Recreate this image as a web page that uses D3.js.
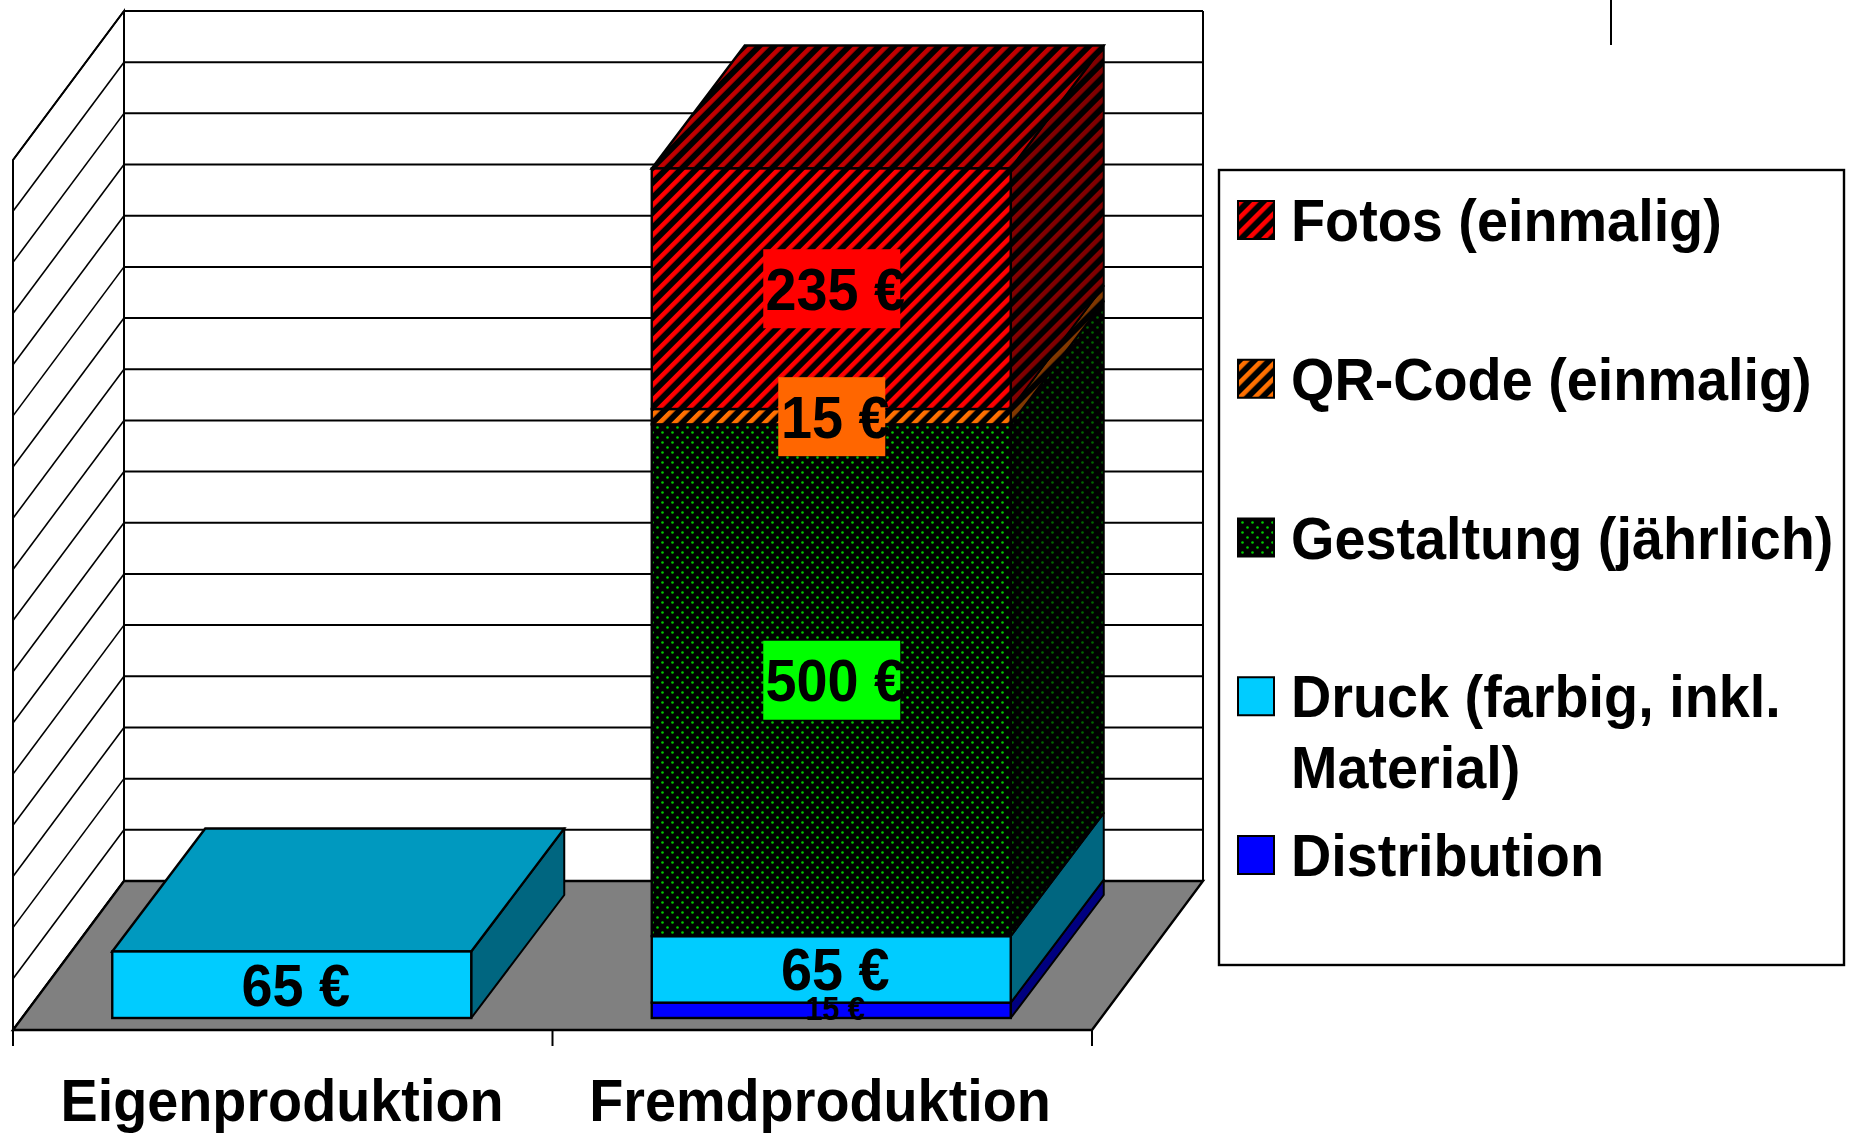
<!DOCTYPE html>
<html>

<head>
  <meta charset="utf-8">
  <title>Eigenproduktion / Fremdproduktion</title>
  <script src="https://d3js.org/d3.v7.min.js"></script>
  <style>
    body { margin: 0; background: white; }
    svg { display: block; }
    text { font-family: "Liberation Sans", Arial, sans-serif; font-weight: bold; fill: black; }
  </style>
</head>

<body>
<svg id="chart"></svg>

<script>

  var categories = ["Eigenproduktion", "Fremdproduktion"];
  var seriesKeys = ["Distribution", "Druck", "Gestaltung", "QR-Code", "Fotos"];
  var distribution = [0, 15];
  var druck = [65, 65];
  var gestaltung = [0, 500];
  var qrCode = [0, 15];
  var fotos = [0, 235];
  var legendNames = ["Fotos (einmalig)", "QR-Code (einmalig)", "Gestaltung (jährlich)", "Druck (farbig, inkl.|Material)", "Distribution"];
  var legendKeys = ["Fotos", "QR-Code", "Gestaltung", "Druck", "Distribution"];
  var yTicks = d3.range(0, 851, 50);

  var width = 1854;
  var height = 1136;
  var squeeze = 0.93; // the original text is a bit narrower than Arial

  var svg = d3.select("#chart").attr("width", width).attr("height", height);
  var defs = svg.append("defs");

  function stripes(id, color) {
    var p = defs.append("pattern").attr("id", id)
      .attr("patternUnits", "userSpaceOnUse")
      .attr("width", 10.6).attr("height", 10.6)
      .attr("patternTransform", "rotate(45)");
    p.append("rect").attr("width", 10.6).attr("height", 10.6).attr("fill", "black");
    p.append("rect").attr("width", 4.6).attr("height", 10.6).attr("fill", color);
  }

  function dots(id, color) {
    var p = defs.append("pattern").attr("id", id)
      .attr("patternUnits", "userSpaceOnUse")
      .attr("width", 10).attr("height", 10);
    p.append("rect").attr("width", 10).attr("height", 10).attr("fill", "black");
    p.append("circle").attr("cx", 2.5).attr("cy", 2.5).attr("r", 1.3).attr("fill", color);
    p.append("circle").attr("cx", 7.5).attr("cy", 7.5).attr("r", 1.3).attr("fill", color);
  }

  stripes("fotosFront", "#ff0000");
  stripes("fotosTop", "#c00000");
  stripes("fotosSide", "#800000");
  stripes("qrFront", "#ff7000");
  stripes("qrSide", "#803800");
  dots("gestFront", "#00cc00");
  dots("gestSide", "#006600");

  var fills = {
    "Distribution": { front: "#0000ff", side: "#000080", top: "#0000bf" },
    "Druck": { front: "#00ccff", side: "#006680", top: "#0099bf" },
    "Gestaltung": { front: "url(#gestFront)", side: "url(#gestSide)", top: "url(#gestSide)" },
    "QR-Code": { front: "url(#qrFront)", side: "url(#qrSide)", top: "url(#qrSide)" },
    "Fotos": { front: "url(#fotosFront)", side: "url(#fotosSide)", top: "url(#fotosTop)" }
  };
  var labelBoxes = { "Gestaltung": "#00ff00", "QR-Code": "#ff6600", "Fotos": "#ff0000" };

  // 3d box of the plot
  var floorDx = 111, floorDy = -149;
  var barDx = 93, barDy = -123;
  var barInset = 12; // gap between front floor edge and the bar front

  var x = d3.scaleBand().domain(categories).range([13, 1092]);
  var y = d3.scaleLinear().domain([0, 850]).range([1030, 160]);
  var barWidth = 359;

  function poly(pts) { return d3.line()(pts) + "Z"; }

  function label(txt, px, py, size, g) {
    return (g || svg).append("text")
      .attr("transform", "translate(" + px + "," + py + ") scale(" + squeeze + ",1)")
      .attr("font-size", size)
      .attr("text-anchor", "middle")
      .text(txt);
  }

  // left wall + back wall
  var x0 = x.range()[0], x1 = x.range()[1];
  svg.append("path")
    .attr("d", poly([[x0, y(850)], [x0 + floorDx, y(850) + floorDy], [x0 + floorDx, y(0) + floorDy], [x0, y(0)]]))
    .attr("fill", "white").attr("stroke", "black").attr("stroke-width", 2);

  svg.selectAll(".side-grid").data(yTicks).enter().append("line")
    .attr("class", "side-grid")
    .attr("x1", x0).attr("y1", d => y(d))
    .attr("x2", x0 + floorDx).attr("y2", d => y(d) + floorDy)
    .attr("stroke", "black").attr("stroke-width", 1.6);

  var grid = svg.append("g")
    .attr("transform", "translate(" + (x0 + floorDx) + "," + floorDy + ")")
    .call(d3.axisBottom(y.copy().domain([0, 1]).range([0, 1])).tickValues([]).tickSize(0));
  grid.selectAll("*").remove();
  grid.selectAll("line").data(yTicks).enter().append("line")
    .attr("x1", 0).attr("x2", x1 - x0)
    .attr("y1", d => y(d)).attr("y2", d => y(d))
    .attr("stroke", "black").attr("stroke-width", 2);
  grid.append("line")
    .attr("x1", x1 - x0).attr("x2", x1 - x0)
    .attr("y1", y(0)).attr("y2", y(850))
    .attr("stroke", "black").attr("stroke-width", 2);

  // floor
  svg.append("path")
    .attr("d", poly([[x0, y(0)], [x0 + floorDx, y(0) + floorDy], [x1 + floorDx, y(0) + floorDy], [x1, y(0)]]))
    .attr("fill", "#808080").attr("stroke", "black").attr("stroke-width", 2.4);

  // category ticks
  var tickXs = [x0].concat(categories.map(c => x(c) + x.bandwidth()));
  svg.selectAll(".xtick").data(tickXs).enter().append("line")
    .attr("class", "xtick")
    .attr("x1", d => d).attr("x2", d => d)
    .attr("y1", y(0)).attr("y2", y(0) + 16)
    .attr("stroke", "black").attr("stroke-width", 2);

  var labelCenters = [282, 820];
  categories.forEach(function(c, i) {
    label(c, labelCenters[i], 1121, 60);
  });

  // stray tick top right
  svg.append("line")
    .attr("x1", 1611).attr("x2", 1611).attr("y1", 0).attr("y2", 45)
    .attr("stroke", "black").attr("stroke-width", 2);

  // bars
  var rows = categories.map(function(c, i) {
    return { cat: c, "Distribution": distribution[i], "Druck": druck[i], "Gestaltung": gestaltung[i], "QR-Code": qrCode[i], "Fotos": fotos[i] };
  });
  var stacked = d3.stack().keys(seriesKeys)(rows);

  categories.forEach(function(c, i) {
    var left = x(c) + x.bandwidth() / 2 + 9 - barWidth / 2;
    var right = left + barWidth;
    var g = svg.append("g");

    var segs = stacked
      .map(s => ({ key: s.key, y0: s[i][0], y1: s[i][1] }))
      .filter(s => s.y1 > s.y0);

    var ty = v => y(v) - barInset;

    g.selectAll(".side").data(segs).enter().append("path")
      .attr("d", s => poly([[right, ty(s.y0)], [right + barDx, ty(s.y0) + barDy], [right + barDx, ty(s.y1) + barDy], [right, ty(s.y1)]]))
      .attr("fill", s => fills[s.key].side)
      .attr("stroke", "black").attr("stroke-width", 2).attr("stroke-linejoin", "round");

    var last = segs[segs.length - 1];
    g.append("path")
      .attr("d", poly([[left, ty(last.y1)], [left + barDx, ty(last.y1) + barDy], [right + barDx, ty(last.y1) + barDy], [right, ty(last.y1)]]))
      .attr("fill", fills[last.key].top)
      .attr("stroke", "black").attr("stroke-width", 2.4);

    g.selectAll(".front").data(segs).enter().append("rect")
      .attr("x", left).attr("width", barWidth)
      .attr("y", s => ty(s.y1)).attr("height", s => ty(s.y0) - ty(s.y1))
      .attr("fill", s => fills[s.key].front)
      .attr("stroke", "black").attr("stroke-width", 2.4);

    segs.forEach(function(s) {
      var mid = ty((s.y0 + s.y1) / 2);
      var val = s.y1 - s.y0;
      var cx = left + barWidth / 2 + 1;
      if (labelBoxes[s.key]) {
        var w = val < 100 ? 107 : 137;
        g.append("rect")
          .attr("x", val < 100 ? cx - 54 : cx - 69)
          .attr("y", mid - 39.5)
          .attr("width", w).attr("height", 79)
          .attr("fill", labelBoxes[s.key]);
      }
      if (s.key === "Distribution") {
        label(val + " €", cx + 3, mid + 10, 33, g);
      } else {
        label(val + " €", cx + 3, mid + 21, 60, g);
      }
    });
  });

  // legend
  var legend = svg.append("g");
  legend.append("rect")
    .attr("x", 1219).attr("y", 170).attr("width", 625).attr("height", 795)
    .attr("fill", "white").attr("stroke", "black").attr("stroke-width", 2.4);

  var legendY = d3.scalePoint().domain(legendKeys).range([201, 836]);

  legendKeys.forEach(function(k, i) {
    legend.append("rect")
      .attr("x", 1238).attr("y", legendY(k)).attr("width", 36).attr("height", 38)
      .attr("fill", fills[k].front)
      .attr("stroke", "black").attr("stroke-width", 2);
    legendNames[i].split("|").forEach(function(line, j) {
      legend.append("text")
        .attr("transform", "translate(1291," + (legendY(k) + 40 + j * 71) + ") scale(" + squeeze + ",1)")
        .attr("font-size", 60)
        .text(line);
    });
  });

</script>

</body>

</html>
